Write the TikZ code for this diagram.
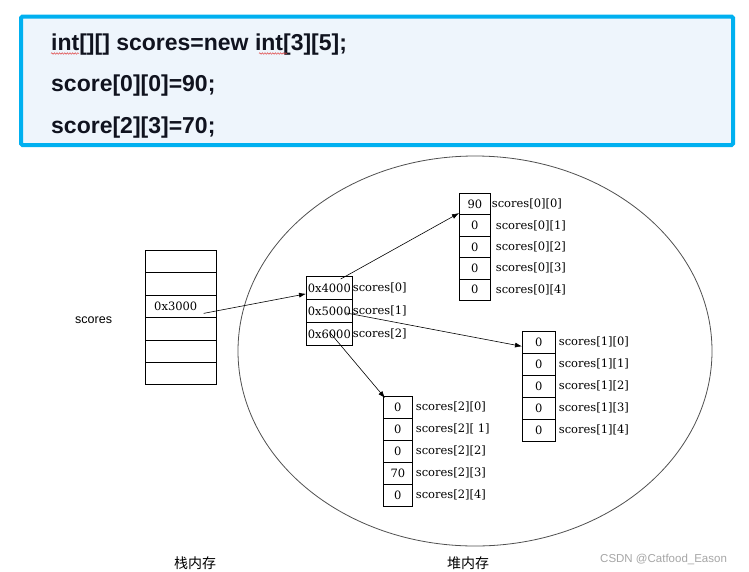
\documentclass[tikz,border=0pt]{standalone}
\usepackage{fontspec}
\usetikzlibrary{positioning,arrows.meta,calc,decorations.pathmorphing}
\newfontfamily\codefont{Liberation Sans}
\newfontfamily\cellfont{DejaVu Serif}
\newfontfamily\labelfont{Liberation Sans}
\newfontfamily\cjkfont{Noto Sans CJK SC}
\definecolor{boxblue}{HTML}{00B0F0}
\definecolor{boxfill}{HTML}{EEF5FC}
\definecolor{ink}{HTML}{10131F}
\definecolor{rim}{HTML}{505050}
\definecolor{squiggle}{HTML}{E04848}

\begin{document}
\begin{tikzpicture}[x=1pt,y=-1pt,
  cell/.style={draw=black, line width=0.7pt, inner sep=0pt, anchor=north west,
    font=\cellfont\fontsize{11.5}{13}\selectfont},
  tag/.style={anchor=west, inner sep=0pt, font=\cellfont\fontsize{11.5}{13}\selectfont},
  codeline/.style={anchor=base west, inner sep=0pt, text=ink,
    font=\codefont\bfseries\fontsize{23}{26}\selectfont},
  ref/.style={-{Latex[length=7pt,width=5pt]}, line width=0.6pt},
  wavy/.style={squiggle, line width=0.5pt, decorate,
    decoration={snake, amplitude=0.8pt, segment length=2.6pt}}]
\useasboundingbox (0,0) rectangle (749,571);
\fill[white] (0,0) rectangle (749,571);

% code box
\node[draw=boxblue, line width=4pt, fill=boxfill, rounded corners=1.5pt, anchor=north west,
  inner sep=0pt, minimum width=712pt, minimum height=128.5pt] (code) at (19,14.5) {};
\node[codeline] (line1) at (51,50) {int[][] scores=new int[3][5];};
\node[codeline] (line2) at (51,91) {score[0][0]=90;};
\node[codeline] (line3) at (51,133) {score[2][3]=70;};
\draw[wavy] (51,53.5) -- (79,53.5);
\draw[wavy] (259,53.5) -- (287,53.5);

% heap
\draw[rim, line width=0.8pt] (475,351) ellipse [x radius=237pt, y radius=195pt];

% stack
\foreach \i in {0,...,5}
  \node[cell, minimum width=71pt, minimum height=22.4pt] (st\i) at (145,{250+22.4*\i}) {};
\node[tag] (ptr) at ([xshift=9pt]st2.west) {0x3000};
\node[anchor=west, inner sep=0pt, font=\labelfont\fontsize{12.5}{14}\selectfont] (name) at (75,320) {scores};

% scores[0..2]
\foreach \v [count=\i from 0] in {4,5,6} {
  \node[cell, minimum width=46pt, minimum height=23pt] (m\i) at (306,{276+23*\i}) {0x\v000};
  \node[tag] (ml\i) at (m\i.east) {scores[\i]};
}

% scores[0][..]
\foreach \v/\s [count=\i from 0] in {90/1,0/5,0/5,0/5,0/5} {
  \node[cell, minimum width=31pt, minimum height=21.4pt] (t\i) at (459,{193+21.4*\i}) {\v};
  \node[tag] (tl\i) at ([xshift=\s pt]t\i.east) {scores[0][\i]};
}

% scores[1][..]
\foreach \v [count=\i from 0] in {0,0,0,0,0} {
  \node[cell, minimum width=33pt, minimum height=22pt] (r\i) at (522,{331+22*\i}) {\v};
  \node[tag] (rl\i) at ([xshift=3pt]r\i.east) {scores[1][\i]};
}

% scores[2][..]
\foreach \v/\k [count=\i from 0] in {0/0,0/{ 1},0/2,70/3,0/4} {
  \node[cell, minimum width=29pt, minimum height=22pt] (b\i) at (383,{396+22*\i}) {\v};
  \node[tag] (bl\i) at ([xshift=3pt]b\i.east) {scores[2][\k]};
}

% references
\draw[ref] ([xshift=-13pt,yshift=-7pt]st2.east) -- ([yshift=-6pt]m0.west);
\draw[ref] ([xshift=-12pt,yshift=-3pt]m0.north east) -- ([yshift=2pt]t0.south west);
\draw[ref] ([xshift=-7pt,yshift=-2pt]m1.east) -- ([yshift=-4pt]r0.west);
\draw[ref] ([yshift=2pt]m2.center) -- ([xshift=2pt,yshift=-2pt]b0.north west);

% labels
\node[font=\cjkfont\fontsize{14}{16}\selectfont] (stackmem) at (195,563) {栈内存};
\node[font=\cjkfont\fontsize{14}{16}\selectfont] (heapmem) at (468,563) {堆内存};
\node[anchor=west, inner sep=0pt, text=gray!70, font=\labelfont\fontsize{11.5}{13}\selectfont]
  (mark) at (600,559) {CSDN @Catfood\_Eason};
\end{tikzpicture}
\end{document}
